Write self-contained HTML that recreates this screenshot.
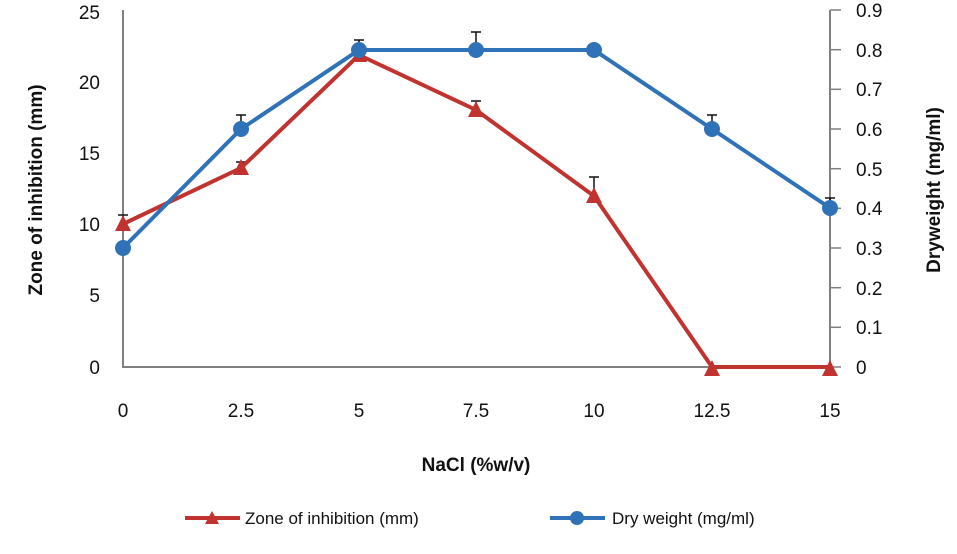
<!DOCTYPE html><html><head><style>body{margin:0;background:#fff}</style></head><body>
<svg width="957" height="549" xmlns="http://www.w3.org/2000/svg" font-family="Liberation Sans, sans-serif">
<g stroke="#808080" stroke-width="2" fill="none">
<line x1="123" y1="10" x2="123" y2="368"/>
<line x1="122" y1="367" x2="831" y2="367"/>
<line x1="830" y1="10" x2="830" y2="368"/>
<g stroke-width="1.5">
<line x1="830" y1="10" x2="841" y2="10"/><line x1="830" y1="49.7" x2="841" y2="49.7"/><line x1="830" y1="89.3" x2="841" y2="89.3"/><line x1="830" y1="129" x2="841" y2="129"/><line x1="830" y1="168.7" x2="841" y2="168.7"/><line x1="830" y1="208.3" x2="841" y2="208.3"/><line x1="830" y1="248" x2="841" y2="248"/><line x1="830" y1="287.7" x2="841" y2="287.7"/><line x1="830" y1="327.3" x2="841" y2="327.3"/><line x1="830" y1="367" x2="841" y2="367"/>
</g></g>
<g font-size="19" fill="#111" text-anchor="end">
<text x="100" y="19">25</text><text x="100" y="89">20</text><text x="100" y="160">15</text><text x="100" y="231">10</text><text x="100" y="302">5</text><text x="100" y="374">0</text>
</g>
<g font-size="19" fill="#111">
<text x="856" y="17">0.9</text><text x="856" y="57">0.8</text><text x="856" y="96">0.7</text><text x="856" y="136">0.6</text><text x="856" y="176">0.5</text><text x="856" y="215">0.4</text><text x="856" y="255">0.3</text><text x="856" y="295">0.2</text><text x="856" y="334">0.1</text><text x="856" y="374">0</text>
</g>
<g font-size="19" fill="#111" text-anchor="middle">
<text x="123" y="417">0</text><text x="241" y="417">2.5</text><text x="359" y="417">5</text><text x="476" y="417">7.5</text><text x="594" y="417">10</text><text x="712" y="417">12.5</text><text x="830" y="417">15</text>
<text x="476" y="471" font-weight="bold" font-size="19">NaCl (%w/v)</text>
</g>
<text transform="translate(42,190) rotate(-90)" text-anchor="middle" font-weight="bold" font-size="19" fill="#111">Zone of inhibition (mm)</text>
<text transform="translate(940,190) rotate(-90)" text-anchor="middle" font-weight="bold" font-size="19" fill="#111">Dryweight (mg/ml)</text>
<g stroke="#111" stroke-width="1.5">
<line x1="123" y1="224" x2="123" y2="215"/><line x1="118" y1="215" x2="128" y2="215"/>
<line x1="241" y1="168" x2="241" y2="162"/><line x1="236" y1="162" x2="246" y2="162"/>
<line x1="476" y1="110" x2="476" y2="101"/><line x1="471" y1="101" x2="481" y2="101"/>
<line x1="594" y1="196" x2="594" y2="177"/><line x1="589" y1="177" x2="599" y2="177"/>
<line x1="241" y1="129" x2="241" y2="115"/><line x1="236" y1="115" x2="246" y2="115"/>
<line x1="359" y1="50" x2="359" y2="40"/><line x1="354" y1="40" x2="364" y2="40"/>
<line x1="476" y1="50" x2="476" y2="32"/><line x1="471" y1="32" x2="481" y2="32"/>
<line x1="712" y1="129" x2="712" y2="115"/><line x1="707" y1="115" x2="717" y2="115"/>
<line x1="830" y1="208" x2="830" y2="198"/><line x1="825" y1="198" x2="835" y2="198"/>
</g>
<polyline fill="none" stroke="#c0332f" stroke-width="4" points="123,224 241,168 359,55 476,110 594,196 712,367 830,367"/>
<g fill="#c0332f">
<polygon points="123,215 115,231 131,231"/><polygon points="241,159 233,175 249,175"/><polygon points="359,46 351,62 367,62"/><polygon points="476,101 468,117 484,117"/><polygon points="594,187 586,203 602,203"/><polygon points="712,360 704,376 720,376"/><polygon points="830,360 822,376 838,376"/>
</g>
<polyline fill="none" stroke="#2f72b8" stroke-width="4" points="123,248 241,129 359,50 476,50 594,50 712,129 830,208"/>
<g fill="#2f72b8">
<circle cx="123" cy="248" r="8"/><circle cx="241" cy="129" r="8"/><circle cx="359" cy="50" r="8"/><circle cx="476" cy="50" r="8"/><circle cx="594" cy="50" r="8"/><circle cx="712" cy="129" r="8"/><circle cx="830" cy="208" r="8"/>
</g>
<line x1="185" y1="518" x2="240" y2="518" stroke="#c0332f" stroke-width="4"/>
<polygon points="212,511 205,524 219,524" fill="#c0332f"/>
<text x="245" y="524" font-size="17" fill="#111">Zone of inhibition (mm)</text>
<line x1="550" y1="518" x2="605" y2="518" stroke="#2f72b8" stroke-width="4"/>
<circle cx="577" cy="518" r="7" fill="#2f72b8"/>
<text x="612" y="524" font-size="17" fill="#111">Dry weight (mg/ml)</text>
</svg></body></html>
